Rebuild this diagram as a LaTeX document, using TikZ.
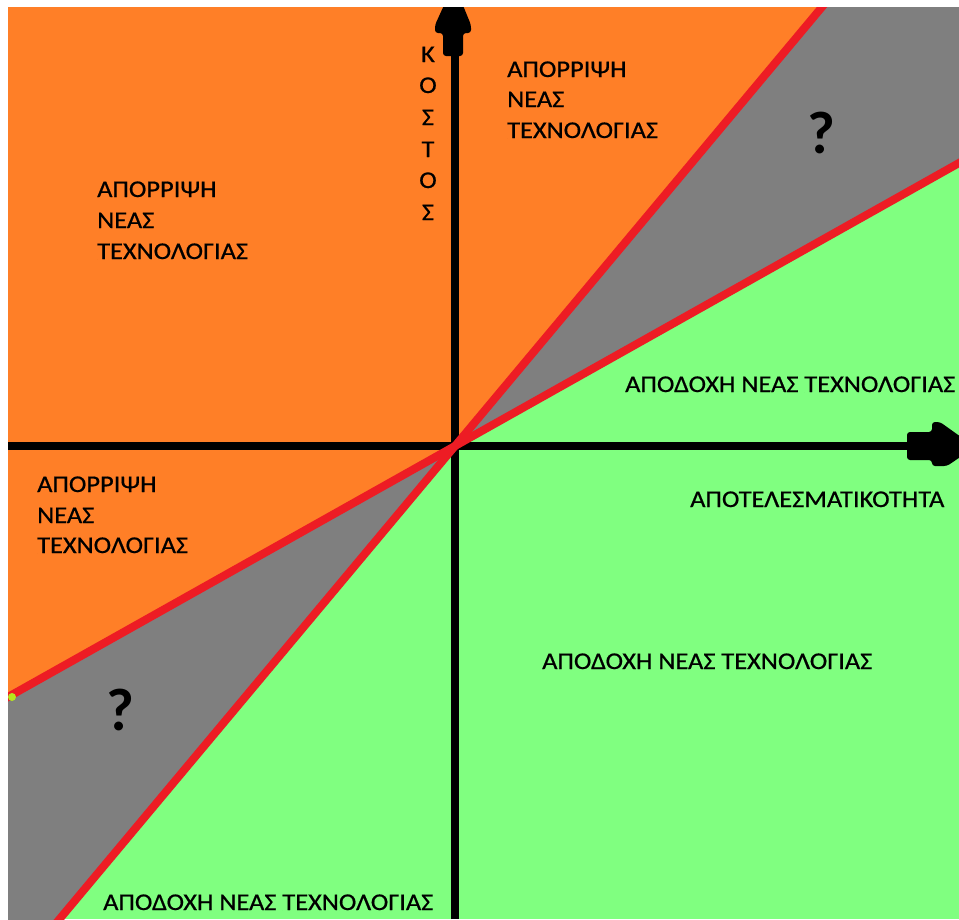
\documentclass[tikz,border=0pt]{standalone}
\usepackage{fontspec}
\setmainfont{Carlito}
\newfontfamily\lblfont[FakeStretch=1.1, FakeBold=0.6]{Carlito}
\definecolor{orng}{HTML}{FF7F27}
\definecolor{gry}{HTML}{7F7F7F}
\definecolor{grn}{HTML}{80FF80}
\definecolor{rd}{HTML}{ED1C24}
\definecolor{ylw}{HTML}{B5E61D}
\begin{document}
\begin{tikzpicture}[x=1pt,y=-1pt,
  lbl/.style={font=\lblfont\fontsize{24}{31}\selectfont, anchor=base west, inner sep=0pt, text=black},
  qmark/.style={font=\fontsize{60}{60}\selectfont\bfseries, inner sep=0pt, text=black},
  redline/.style={rd, line width=8pt},
  axis/.style={black, line width=8pt},
  arrowhead/.style={fill=black, rounded corners=3pt}]
\useasboundingbox (0,0) rectangle (959,919);
\fill[white] (0,0) rectangle (959,919);
\coordinate (O) at (455,446);
\coordinate (T) at (895.4,-80.8);
\coordinate (B) at (14.6,972.8);
\coordinate (R) at (1059.8,106.4);
\coordinate (L) at (-149.8,785.6);
\begin{scope}
\clip (8,7) rectangle (959,919);
\fill[grn] (8,7) rectangle (959,919);
\fill[orng] (T) -- (O) -- (L) -- (-149.8,-80.8) -- cycle;
\fill[gry] (T) -- (O) -- (R) -- (1059.8,-80.8) -- cycle;
\fill[gry] (B) -- (O) -- (L) -- (-149.8,972.8) -- cycle;
% axes
\coordinate (xs) at (8,446);
\coordinate (xe) at (908,446);
\coordinate (ys) at (455,919);
\coordinate (ye) at (455,55);
\draw[axis] (xs) -- (xe);
\draw[axis] (ys) -- (ye);
\fill[arrowhead] (907,432) -- (932,432) -- (932,422) -- (940,422) -- (975,447) -- (947,466) -- (932,466) -- (932,460) -- (907,460) -- cycle;
\fill[arrowhead] (443,56) -- (443,33) -- (435,33) -- (435,25) -- (445,3) -- (462,3) -- (471,25) -- (471,33) -- (463,33) -- (463,56) -- cycle;
% red lines
\draw[redline] (T) -- (B);
\draw[redline] (R) -- (L);
\fill[ylw] (12,697) circle (4);
\end{scope}
% labels
\node[lbl] (a1) at (97,197) {ΑΠΟΡΡΙΨΗ};
\node[lbl] (a2) at (97,228) {ΝΕΑΣ};
\node[lbl] (a3) at (97,259) {ΤΕΧΝΟΛΟΓΙΑΣ};
\node[lbl] (b1) at (507,77) {ΑΠΟΡΡΙΨΗ};
\node[lbl] (b2) at (507,107) {ΝΕΑΣ};
\node[lbl] (b3) at (507,138) {ΤΕΧΝΟΛΟΓΙΑΣ};
\node[lbl] (c1) at (37,492) {ΑΠΟΡΡΙΨΗ};
\node[lbl] (c2) at (37,523) {ΝΕΑΣ};
\node[lbl] (c3) at (37,553) {ΤΕΧΝΟΛΟΓΙΑΣ};
\node[lbl] (d1) at (625,392) {ΑΠΟΔΟΧΗ ΝΕΑΣ ΤΕΧΝΟΛΟΓΙΑΣ};
\node[lbl] (d2) at (542,669) {ΑΠΟΔΟΧΗ ΝΕΑΣ ΤΕΧΝΟΛΟΓΙΑΣ};
\node[lbl] (d3) at (103,910) {ΑΠΟΔΟΧΗ ΝΕΑΣ ΤΕΧΝΟΛΟΓΙΑΣ};
\node[lbl] (e1) at (690,507) {ΑΠΟΤΕΛΕΣΜΑΤΙΚΟΤΗΤΑ};
\foreach \ch/\yy [count=\i] in {Κ/62,Ο/93,Σ/125,Τ/157,Ο/188,Σ/220}
  \node[lbl, anchor=base] (k\i) at (428,\yy) {\ch};
\node[qmark] (q1) at (821,133) {?};
\node[qmark] (q2) at (120,710) {?};
\end{tikzpicture}
\end{document}
